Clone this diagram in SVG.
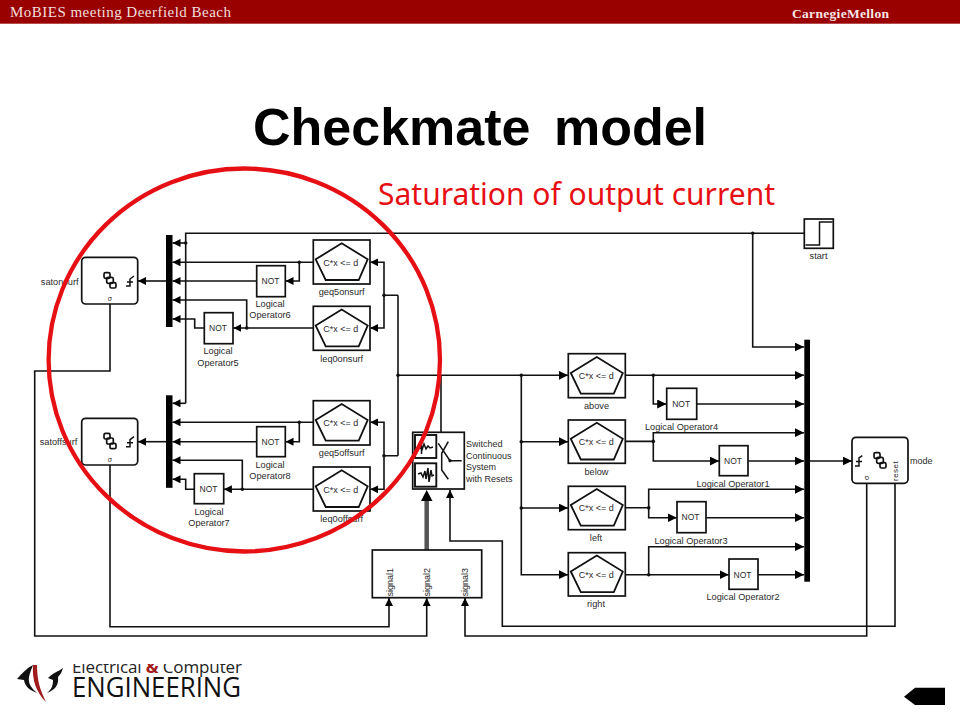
<svg xmlns="http://www.w3.org/2000/svg" width="960" height="720" viewBox="0 0 960 720">
<defs>
<marker id="a" markerUnits="userSpaceOnUse" markerWidth="9" markerHeight="9" refX="8" refY="4" orient="auto"><path d="M0 0L8 4L0 8Z" fill="#000"/></marker>
<marker id="c" markerUnits="userSpaceOnUse" markerWidth="10" markerHeight="10" refX="9.300" refY="4.500" orient="auto"><path d="M0 0L9.300 4.500L0 9Z" fill="#000"/></marker>
<g id="pent"><path d="M-26 -3L0 -19L26 -3L17 17.700L-16 17.700Z" fill="#fff" stroke="#111" stroke-width="1.800"/></g>
<g id="chart" fill="none" stroke="#111" stroke-width="1.700"><rect x="-6" y="-8.300" width="6" height="5.600" rx="1.500"/><rect x="-3.300" y="-3.700" width="6.600" height="6" rx="1.500"/><rect x="0" y="1.700" width="6" height="5.300" rx="1.500"/></g>
<clipPath id="logoclip"><rect x="60" y="664" width="200" height="13"/></clipPath>
</defs>
<style>
text{font-family:"Liberation Sans",Arial,sans-serif;fill:#2a2a2a}
.l{font-size:9.200px;text-anchor:middle}
.n{font-size:8.500px;text-anchor:middle}
.p{font-size:9px;text-anchor:middle}
.box{fill:#fff;stroke:#111;stroke-width:1.700}
.w{fill:none;stroke:#111;stroke-width:1.600}
.w2{fill:none;stroke:#111;stroke-width:1.600;marker-end:url(#a)}
.w3{fill:none;stroke:#111;stroke-width:1.600;marker-end:url(#c)}
.bar{fill:#000}
.dot{fill:#111}
.sq{fill:none;stroke:#111;stroke-width:1.500}
</style>
<rect width="960" height="720" fill="#fff"/>
<g id="header">
<rect width="960" height="23.700" fill="#990000"/>
<text x="10" y="16.500" textLength="221" style="font-family:'Liberation Serif',serif;font-size:15px;fill:#f2dede">MoBIES meeting Deerfield Beach</text>
<text x="792" y="17.500" textLength="97" style="font-family:'Liberation Serif',serif;font-size:13.500px;font-weight:bold;fill:#f7e6e6">CarnegieMellon</text>
</g>
<text id="title" x="253" y="145" style="font-size:52px;font-weight:bold;fill:#000;word-spacing:9px">Checkmate model</text>
<text id="subtitle" x="378" y="205" textLength="397" style="font-family:'Noto Sans',sans-serif;font-size:30px;fill:#e60f14">Saturation of output current</text>

<g id="connectors">
<path class="w" d="M805 233.300H185.700V403.300"/>
<path class="w2" d="M185.700 243H172.500"/>
<path class="w2" d="M185.700 403.300H172.500"/>
<path class="w2" d="M313 262.300H172.500"/>
<path class="w2" d="M299.300 262.300V281H285.500"/>
<path class="w2" d="M256.700 281H172.500"/>
<path class="w2" d="M166 281H138"/>
<path class="w2" d="M313 328H233.300"/>
<path class="w2" d="M246.700 328V300H172.500"/>
<path class="w2" d="M204.300 328H194.700V319H172.500"/>
<path class="w2" d="M313 422.300H172.500"/>
<path class="w2" d="M299.300 422.300V441.700H285.500"/>
<path class="w2" d="M256.700 441.700H172.500"/>
<path class="w2" d="M166 441.700H138"/>
<path class="w2" d="M313 489.300H223.900"/>
<path class="w2" d="M242.300 489.300V460.300H172.500"/>
<path class="w2" d="M194.300 489.300H185.700V479.300H172.500"/>
<path class="w2" d="M398 295.300H384V262.300H370.200"/>
<path class="w2" d="M384 295.300V328H370.200"/>
<path class="w2" d="M398 455.700H384V422.300H370.200"/>
<path class="w2" d="M384 455.700V489.300H370.200"/>
<path class="w" d="M398 295.300V455.700"/>
<path class="w3" d="M398 375.300H568"/>
<path class="w" d="M441 375.300V432.300"/>
<path class="w3" d="M521.300 375.300V441.700H568"/>
<path class="w3" d="M521.300 441.700V508H568"/>
<path class="w3" d="M521.300 508V574.700H568"/>
<path class="w3" d="M752.700 233.300V347H804"/>
<path class="w3" d="M625.500 375.300H804"/>
<path class="w3" d="M653.300 375.300V404H666.500"/>
<path class="w3" d="M696.900 404H804"/>
<path class="w3" d="M625.500 441.400H653.300V432.700H804"/>
<path class="w3" d="M653.300 441.400V461H719.100"/>
<path class="w3" d="M748.200 461H804"/>
<path class="w3" d="M625.500 507.800H648.700V489.300H804"/>
<path class="w3" d="M648.700 507.800V517.700H676.800"/>
<path class="w3" d="M706.200 517.700H804"/>
<path class="w3" d="M625.500 574.700H728.800"/>
<path class="w3" d="M648.700 574.700V546.700H804"/>
<path class="w3" d="M758.200 574.700H804"/>
<path class="w3" d="M810 461H852"/>
<path class="w2" d="M110 304V371H34.700V636H426.700V598"/>
<path class="w2" d="M110 465V626.700H389V598"/>
<path class="w2" d="M866.700 483V636H465V598"/>
<path class="w2" d="M895 483V626.300H502.300V541H450V490"/>
<path d="M426.700 550V500" fill="none" stroke="#555" stroke-width="4.500"/>
<path d="M421 501L426.700 490L432.500 501Z" fill="#000"/>
<g class="dot">
<circle cx="185.700" cy="243" r="1.800"/><circle cx="299.300" cy="262.300" r="1.800"/><circle cx="246.700" cy="328" r="1.800"/><circle cx="299.300" cy="422.300" r="1.800"/><circle cx="242.300" cy="489.300" r="1.800"/><circle cx="384" cy="295.300" r="1.800"/><circle cx="384" cy="455.700" r="1.800"/><circle cx="398" cy="375.300" r="1.800"/><circle cx="521.300" cy="375.300" r="1.800"/><circle cx="521.300" cy="441.700" r="1.800"/><circle cx="521.300" cy="508" r="1.800"/><circle cx="752.700" cy="233.300" r="1.800"/><circle cx="653.300" cy="375.300" r="1.800"/><circle cx="653.300" cy="441.400" r="1.800"/><circle cx="648.700" cy="507.800" r="1.800"/><circle cx="648.700" cy="574.700" r="1.800"/>
</g>
</g>

<g id="mux1"><rect class="bar" x="166" y="235" width="6.500" height="92"/></g>
<g id="mux2"><rect class="bar" x="166" y="395.300" width="6.500" height="92.500"/></g>
<g id="mux3"><rect class="bar" x="804.300" y="339.700" width="5.700" height="242"/></g>

<g id="satonsurf">
<rect class="box" x="81.700" y="257.300" width="56" height="46.700" rx="4"/>
<use href="#chart" x="110" y="281"/>
<path d="M126 286H130V279L134 276M127 282H133" class="sq"/>
<text x="110" y="300.500" class="p" style="font-size:7px">σ</text>
<text x="59.700" y="285" class="l">satonsurf</text>
</g>
<g id="satoffsurf">
<rect class="box" x="81.700" y="418.300" width="56" height="46.700" rx="4"/>
<use href="#chart" x="110" y="441.700"/>
<path d="M126 446.700H130V439.700L134 436.700M127 442.700H133" class="sq"/>
<text x="110" y="461.500" class="p" style="font-size:7px">σ</text>
<text x="58.500" y="445" class="l">satoffsurf</text>
</g>

<g id="geq5onsurf"><rect class="box" x="313.300" y="240" width="56.700" height="44"/><use href="#pent" x="341.700" y="262.300"/><text x="340.700" y="265.500" class="p">C*x &lt;= d</text><text x="341.700" y="295" class="l">geq5onsurf</text></g>
<g id="leq0onsurf"><rect class="box" x="313.300" y="306.300" width="56.700" height="44"/><use href="#pent" x="341.700" y="328.600"/><text x="340.700" y="331.500" class="p">C*x &lt;= d</text><text x="341.700" y="361.500" class="l">leq0onsurf</text></g>
<g id="geq5offsurf"><rect class="box" x="313.300" y="400.700" width="56.700" height="44.300"/><use href="#pent" x="341.700" y="423"/><text x="340.700" y="426" class="p">C*x &lt;= d</text><text x="341.700" y="456" class="l">geq5offsurf</text></g>
<g id="leq0offsurf"><rect class="box" x="313.300" y="467" width="56.700" height="44"/><use href="#pent" x="341.700" y="489.300"/><text x="340.700" y="492.500" class="p">C*x &lt;= d</text><text x="341.700" y="522" class="l">leq0offsurf</text></g>

<g id="not6"><rect class="box" x="256.700" y="265.700" width="28.600" height="31"/><text x="270.500" y="284.300" class="n">NOT</text><text x="270" y="307" class="l">Logical</text><text x="270" y="318" class="l">Operator6</text></g>
<g id="not5"><rect class="box" x="204.300" y="312.700" width="28.700" height="31"/><text x="218" y="331.300" class="n">NOT</text><text x="218" y="354" class="l">Logical</text><text x="218" y="366" class="l">Operator5</text></g>
<g id="not8"><rect class="box" x="256.700" y="426.700" width="28.600" height="30"/><text x="270.500" y="444.800" class="n">NOT</text><text x="270" y="468" class="l">Logical</text><text x="270" y="479" class="l">Operator8</text></g>
<g id="not7"><rect class="box" x="194.300" y="473.700" width="29.400" height="30"/><text x="208.500" y="492.300" class="n">NOT</text><text x="209" y="515" class="l">Logical</text><text x="209" y="526" class="l">Operator7</text></g>

<g id="scs">
<rect x="412.700" y="432.300" width="51.600" height="56.700" fill="#fff" stroke="#111" stroke-width="1.700"/>
<rect x="415" y="435" width="21.300" height="23" fill="#fff" stroke="#111" stroke-width="1.900"/>
<rect x="415" y="463.300" width="21.300" height="23.400" fill="#fff" stroke="#111" stroke-width="1.900"/>
<path d="M421.500 441V454M419 446L422 450L424 444L426 449L428 446L430 448L433 447M418 474L421 473L423 477L425 471L426 479L428 468L429 482L431 470L432 476L434 475" class="sq"/>
<path d="M438.300 443.300L450 460.700H461.700M448.300 441.700L441.700 453.300L441.700 470L448.300 479.300" class="sq"/>
<circle cx="450" cy="460.700" r="1.600" fill="#111"/>
<g style="font-size:9px"><text x="466" y="447">Switched</text><text x="466" y="458.500">Continuous</text><text x="466" y="470">System</text><text x="466" y="481.500">with Resets</text></g>
</g>

<g id="signals">
<rect class="box" x="372.300" y="550" width="109.400" height="47.700"/>
<text transform="translate(392.500 596.500) rotate(-90)" style="font-size:9px">signal1</text>
<text transform="translate(430 596.500) rotate(-90)" style="font-size:9px">signal2</text>
<text transform="translate(468 596.500) rotate(-90)" style="font-size:9px">signal3</text>
</g>

<g id="above"><rect class="box" x="568.300" y="353.700" width="57" height="44"/><use href="#pent" x="596.800" y="376"/><text x="596.300" y="379" class="p">C*x &lt;= d</text><text x="596.500" y="408.500" class="l">above</text></g>
<g id="below"><rect class="box" x="568.300" y="420" width="57" height="43.300"/><use href="#pent" x="596.800" y="441.800"/><text x="596.300" y="445" class="p">C*x &lt;= d</text><text x="596.500" y="475" class="l">below</text></g>
<g id="left"><rect class="box" x="568.300" y="486.300" width="57" height="43.400"/><use href="#pent" x="596.800" y="508"/><text x="596.300" y="511" class="p">C*x &lt;= d</text><text x="596" y="541" class="l">left</text></g>
<g id="right"><rect class="box" x="568.300" y="552.700" width="57" height="43.300"/><use href="#pent" x="596.800" y="574.500"/><text x="596.300" y="577.500" class="p">C*x &lt;= d</text><text x="596" y="607" class="l">right</text></g>

<g id="not4"><rect class="box" x="666.700" y="388.300" width="30" height="31"/><text x="681.200" y="407" class="n">NOT</text><text x="681.500" y="430" class="l">Logical Operator4</text></g>
<g id="not1"><rect class="box" x="719.300" y="445.700" width="28.700" height="30"/><text x="733" y="464" class="n">NOT</text><text x="733" y="487" class="l">Logical Operator1</text></g>
<g id="not3"><rect class="box" x="677" y="501.700" width="29" height="31"/><text x="690.500" y="520.300" class="n">NOT</text><text x="691" y="544" class="l">Logical Operator3</text></g>
<g id="not2"><rect class="box" x="729" y="559" width="29" height="30.300"/><text x="742.500" y="577.500" class="n">NOT</text><text x="743" y="600" class="l">Logical Operator2</text></g>

<g id="start"><rect class="box" x="804.300" y="219" width="29" height="29.300"/><path d="M805.500 245H819.500V222H832.500" fill="none" stroke="#111" stroke-width="1.500"/><text x="818.500" y="259" class="l">start</text></g>

<g id="mode">
<rect class="box" x="852" y="437.300" width="56" height="46" rx="4"/>
<use href="#chart" x="880" y="461"/>
<path d="M855 466H859V458L862.300 455.700M856 461.500H862" class="sq"/>
<text transform="translate(869 480) rotate(-90)" style="font-size:7px">σ</text>
<text transform="translate(897.500 481) rotate(-90)" style="font-size:8px;letter-spacing:.5px">reset</text>
<text x="910" y="464" style="font-size:9px">mode</text>
</g>

<ellipse id="redcircle" cx="244.300" cy="360" rx="195.700" ry="191.500" fill="none" stroke="#e60f14" stroke-width="4.300"/>

<g id="logo">
<path d="M33 665C27 668 22 673 17 679L24 680C25 686 29 690 37 693C31 688 28 683 29 677C30 672 32 668 33 665Z" fill="#111"/>
<path d="M63 668C58 672 54 672 48 678L53 680C53 685 52 689 47 693C55 690 59 685 58 677C60 675 62 672 63 668Z" fill="#111"/>
<path d="M33 665C32 680 36 692 46 702C40 690 37 680 37 665Z" fill="#a01c1c"/>
<g clip-path="url(#logoclip)">
<text x="72" y="673.300" textLength="170" style="font-family:'Open Sans',sans-serif;font-size:17px;fill:#222">Electrical <tspan fill="#a01c1c" font-weight="bold">&amp;</tspan> Computer</text>
</g>
<text x="72" y="697.300" textLength="169" lengthAdjust="spacingAndGlyphs" style="font-family:'Open Sans',sans-serif;font-size:28px;fill:#111">ENGINEERING</text>
</g>
<path id="back" d="M904 696.700L915 687.700H945V705H915Z" fill="#000"/>
</svg>
